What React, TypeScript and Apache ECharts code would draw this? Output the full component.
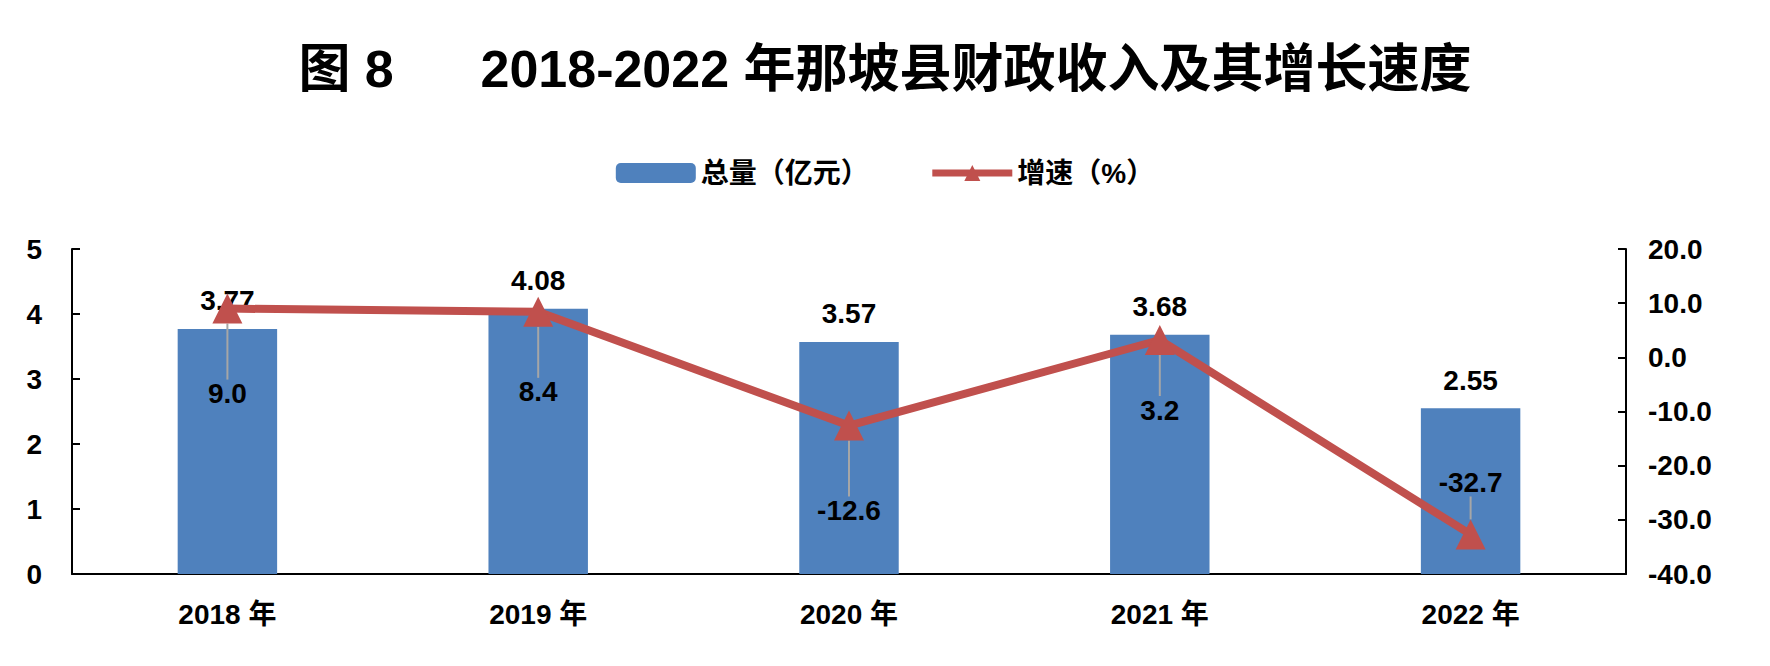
import { useEffect, useRef } from 'react';
import * as echarts from 'echarts';

const years = ['2018 年', '2019 年', '2020 年', '2021 年', '2022 年'];
const totals = [3.77, 4.08, 3.57, 3.68, 2.55];
const growth = [9.0, 8.4, -12.6, 3.2, -32.7];
// label offset for each growth point (px, vertical)
const growthLabelDy = [85, 80, 85, 70, -52];

const FONT = '"Liberation Sans", "Noto Sans CJK SC", sans-serif';

export default function App() {
  const ref = useRef<HTMLDivElement>(null);

  useEffect(() => {
    if (!ref.current) return;
    const chart = echarts.init(ref.current, undefined, { renderer: 'svg' });
    chart.setOption({
      animation: false,
      textStyle: { fontFamily: FONT, fontWeight: 'bold', color: '#000' },
      title: {
        text: '图 8      2018-2022 年那坡县财政收入及其增长速度',
        left: 'center', top: 30,
        textStyle: { fontSize: 52, fontWeight: 'bold', color: '#000', fontFamily: FONT },
      },
      legend: {
        top: 146, left: 'center', itemGap: 60, itemWidth: 80, itemHeight: 20,
        textStyle: { fontSize: 28, fontWeight: 'bold', color: '#000', fontFamily: FONT },
        data: [
          { name: '总量（亿元）' },
          { name: '增速（%）', itemStyle: { color: '#C0504D' }, lineStyle: { width: 7 } },
        ],
      },
      grid: { left: 64, right: 136, top: 241, bottom: 84 },
      xAxis: {
        type: 'category', data: years,
        axisLine: { lineStyle: { color: '#000', width: 2 } },
        axisTick: { show: false },
        axisLabel: { fontSize: 28, fontWeight: 'bold', color: '#000', margin: 26 },
      },
      yAxis: [
        {
          type: 'value', min: 0, max: 5, interval: 1,
          axisLine: { show: true, lineStyle: { color: '#000', width: 2 } },
          axisTick: { show: true, inside: true, length: 8, lineStyle: { width: 2 } },
          splitLine: { show: false },
          axisLabel: { fontSize: 28, fontWeight: 'bold', color: '#000', margin: 30 },
        },
        {
          type: 'value', min: -40, max: 20, interval: 10,
          axisLine: { show: true, lineStyle: { color: '#000', width: 2 } },
          axisTick: { show: true, inside: true, length: 8, lineStyle: { width: 2 } },
          splitLine: { show: false },
          axisLabel: { fontSize: 28, fontWeight: 'bold', color: '#000', margin: 22, formatter: (v: number) => v.toFixed(1) },
        },
      ],
      series: [
        {
          name: '总量（亿元）', type: 'bar', data: totals, barWidth: '32%',
          itemStyle: { color: '#4F81BD' },
          label: { show: true, position: 'top', distance: 14, fontSize: 28, fontWeight: 'bold', color: '#000' },
        },
        {
          name: '增速（%）', type: 'line', yAxisIndex: 1,
          data: growth,
          symbol: 'triangle', symbolSize: 30,
          lineStyle: { color: '#C0504D', width: 8 },
          itemStyle: { color: '#C0504D' },
          label: {
            show: true, position: 'inside', fontSize: 28, fontWeight: 'bold', color: '#000',
            formatter: (p: any) => Number(p.value).toFixed(1),
          },
          labelLine: { show: true, lineStyle: { color: '#A6A6A6', width: 2 } },
          labelLayout: (p: any) => ({ dy: growthLabelDy[p.dataIndex] }),
          z: 3,
        },
      ],
    });
    return () => chart.dispose();
  }, []);

  return <div ref={ref} style={{ width: 1754, height: 650 }} />;
}
